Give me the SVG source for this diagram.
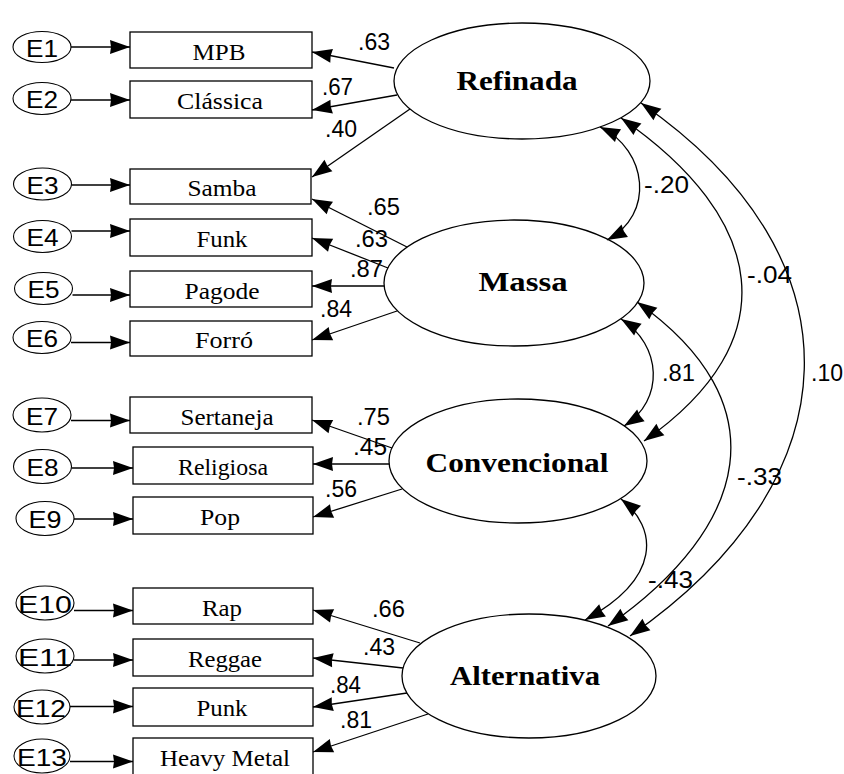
<svg xmlns="http://www.w3.org/2000/svg" width="844" height="774" viewBox="0 0 844 774">
<style>
.box{fill:#fff;stroke:#000;stroke-width:1.3}
.lat{fill:#fff;stroke:#000;stroke-width:1.3}
.err{fill:#fff;stroke:#000;stroke-width:1.1}
.ind{font-family:"Liberation Serif","Times New Roman",serif;font-size:22.5px;text-anchor:middle;fill:#000}
.latt{font-family:"Liberation Serif","Times New Roman",serif;font-weight:bold;font-size:27px;text-anchor:middle;fill:#000}
.et{font-family:"Liberation Sans",Arial,sans-serif;font-size:24px;text-anchor:middle;fill:#000}
.lbl{font-family:"Liberation Sans",Arial,sans-serif;font-size:23px;fill:#000}
.c{fill:none;stroke:#000;stroke-width:1.3;marker-end:url(#ah)}
.cc{fill:none;stroke:#000;stroke-width:1.3;marker-start:url(#ah);marker-end:url(#ah)}
</style>
<defs>
<marker id="ah" markerUnits="userSpaceOnUse" markerWidth="22" markerHeight="16" viewBox="-21 -8 22 16" refX="0" refY="0" orient="auto-start-reverse">
<path d="M0,0 L-20,-7 L-19,0 L-20,7 z" fill="#000"/>
</marker>
</defs>
<rect width="844" height="774" fill="#fff"/>

<!-- error terms -->
<g id="E1"><ellipse class="err" cx="42" cy="47" rx="29" ry="15.5"/><text class="et" x="42" y="56.5" textLength="32" lengthAdjust="spacingAndGlyphs">E1</text></g>
<g id="E2"><ellipse class="err" cx="42" cy="98.5" rx="29" ry="16"/><text class="et" x="42" y="108" textLength="32" lengthAdjust="spacingAndGlyphs">E2</text></g>
<g id="E3"><ellipse class="err" cx="42.5" cy="184" rx="29" ry="16"/><text class="et" x="42.5" y="193.5" textLength="32" lengthAdjust="spacingAndGlyphs">E3</text></g>
<g id="E4"><ellipse class="err" cx="42.5" cy="236.5" rx="29" ry="16"/><text class="et" x="42.5" y="246" textLength="32" lengthAdjust="spacingAndGlyphs">E4</text></g>
<g id="E5"><ellipse class="err" cx="43.5" cy="288.5" rx="29" ry="16"/><text class="et" x="43.5" y="298" textLength="32" lengthAdjust="spacingAndGlyphs">E5</text></g>
<g id="E6"><ellipse class="err" cx="42" cy="337.5" rx="29" ry="16"/><text class="et" x="42" y="347" textLength="32" lengthAdjust="spacingAndGlyphs">E6</text></g>
<g id="E7"><ellipse class="err" cx="42" cy="415" rx="29" ry="17"/><text class="et" x="42" y="424.5" textLength="32" lengthAdjust="spacingAndGlyphs">E7</text></g>
<g id="E8"><ellipse class="err" cx="42.5" cy="466.5" rx="29" ry="17"/><text class="et" x="42.5" y="476" textLength="32" lengthAdjust="spacingAndGlyphs">E8</text></g>
<g id="E9"><ellipse class="err" cx="45" cy="518.5" rx="29" ry="17"/><text class="et" x="45" y="528" textLength="33" lengthAdjust="spacingAndGlyphs">E9</text></g>
<g id="E10"><ellipse class="err" cx="45" cy="603" rx="29" ry="17"/><text class="et" x="45" y="612.5" textLength="54" lengthAdjust="spacingAndGlyphs">E10</text></g>
<g id="E11"><ellipse class="err" cx="45" cy="656" rx="29" ry="17"/><text class="et" x="45" y="665.5" textLength="54" lengthAdjust="spacingAndGlyphs">E11</text></g>
<g id="E12"><ellipse class="err" cx="42" cy="707" rx="28" ry="17"/><text class="et" x="41" y="716.5" textLength="50" lengthAdjust="spacingAndGlyphs">E12</text></g>
<g id="E13"><ellipse class="err" cx="42" cy="756" rx="28" ry="17"/><text class="et" x="42" y="765.5" textLength="50" lengthAdjust="spacingAndGlyphs">E13</text></g>

<!-- indicators -->
<g id="MPB"><rect class="box" x="130" y="32" width="182" height="36"/><text class="ind" x="219" y="59.5" textLength="53" lengthAdjust="spacingAndGlyphs">MPB</text></g>
<g id="Classica"><rect class="box" x="130" y="81" width="182" height="37"/><text class="ind" x="220" y="108.5" textLength="86" lengthAdjust="spacingAndGlyphs">Clássica</text></g>
<g id="Samba"><rect class="box" x="130" y="169" width="181" height="35"/><text class="ind" x="222" y="196" textLength="69" lengthAdjust="spacingAndGlyphs">Samba</text></g>
<g id="Funk"><rect class="box" x="130" y="219" width="182" height="37"/><text class="ind" x="222" y="246.5" textLength="51" lengthAdjust="spacingAndGlyphs">Funk</text></g>
<g id="Pagode"><rect class="box" x="130" y="271" width="182" height="36"/><text class="ind" x="222" y="298.5" textLength="75" lengthAdjust="spacingAndGlyphs">Pagode</text></g>
<g id="Forro"><rect class="box" x="130" y="321" width="182" height="35"/><text class="ind" x="224" y="348" textLength="58" lengthAdjust="spacingAndGlyphs">Forró</text></g>
<g id="Sertaneja"><rect class="box" x="130" y="397" width="182" height="36"/><text class="ind" x="227" y="424.5" textLength="93" lengthAdjust="spacingAndGlyphs">Sertaneja</text></g>
<g id="Religiosa"><rect class="box" x="133" y="447" width="180" height="37"/><text class="ind" x="223" y="474.5" textLength="90" lengthAdjust="spacingAndGlyphs">Religiosa</text></g>
<g id="Pop"><rect class="box" x="133" y="497" width="180" height="37"/><text class="ind" x="220" y="524.5" textLength="40" lengthAdjust="spacingAndGlyphs">Pop</text></g>
<g id="Rap"><rect class="box" x="133" y="588" width="180" height="36"/><text class="ind" x="222" y="615.5" textLength="40" lengthAdjust="spacingAndGlyphs">Rap</text></g>
<g id="Reggae"><rect class="box" x="133" y="639" width="180" height="37"/><text class="ind" x="225" y="666.5" textLength="74" lengthAdjust="spacingAndGlyphs">Reggae</text></g>
<g id="Punk"><rect class="box" x="133" y="688" width="180" height="38"/><text class="ind" x="222" y="715.5" textLength="51" lengthAdjust="spacingAndGlyphs">Punk</text></g>
<g id="HeavyMetal"><rect class="box" x="133" y="738" width="180" height="40"/><text class="ind" x="225" y="765.5" textLength="130" lengthAdjust="spacingAndGlyphs">Heavy Metal</text></g>

<!-- latent factors -->
<g id="Refinada"><ellipse class="lat" cx="522" cy="81" rx="128" ry="58"/><text class="latt" x="517" y="90" textLength="121" lengthAdjust="spacingAndGlyphs">Refinada</text></g>
<g id="Massa"><ellipse class="lat" cx="514" cy="283" rx="130" ry="63"/><text class="latt" x="523" y="291" textLength="89" lengthAdjust="spacingAndGlyphs">Massa</text></g>
<g id="Convencional"><ellipse class="lat" cx="518" cy="461" rx="129" ry="62"/><text class="latt" x="517" y="472" textLength="183" lengthAdjust="spacingAndGlyphs">Convencional</text></g>
<g id="Alternativa"><ellipse class="lat" cx="529" cy="676" rx="127" ry="62"/><text class="latt" x="525" y="685" textLength="150" lengthAdjust="spacingAndGlyphs">Alternativa</text></g>

<g id="connectors">
<!-- error arrows -->
<path class="c" d="M71,47 L130,47"/>
<path class="c" d="M71,100 L130,100"/>
<path class="c" d="M71.5,185 L130,185"/>
<path class="c" d="M71.5,231 L130,231"/>
<path class="c" d="M72.5,295 L130,295"/>
<path class="c" d="M71,342.5 L130,342.5"/>
<path class="c" d="M71,420.5 L130,420.5"/>
<path class="c" d="M71.5,468 L133,468"/>
<path class="c" d="M74,519 L133,519"/>
<path class="c" d="M74,610.5 L133,610.5"/>
<path class="c" d="M74,660 L133,660"/>
<path class="c" d="M70,706.5 L133,706.5"/>
<path class="c" d="M70,761.5 L133,761.5"/>
<!-- loadings -->
<path class="c" d="M394,68 L312,52"/>
<path class="c" d="M397,95 L312,110"/>
<path class="c" d="M410,109 L312,177"/>
<path class="c" d="M407,247 L312,199"/>
<path class="c" d="M388,268 L312,238"/>
<path class="c" d="M384,286 L312,286"/>
<path class="c" d="M397,311 L312,340"/>
<path class="c" d="M392,448 L312,420"/>
<path class="c" d="M389,464 L313,464"/>
<path class="c" d="M402,489 L313,517"/>
<path class="c" d="M420,643 L313,610"/>
<path class="c" d="M403,668 L313,658"/>
<path class="c" d="M407,693 L313,707"/>
<path class="c" d="M428,714 L313,752"/>
<!-- correlations -->
<path class="cc" d="M600,127 C648,150 655,215 607,240"/>
<path class="cc" d="M621,118 C766,218 789,340 644,441"/>
<path class="cc" d="M641,103 C866,259 855,480 630,636"/>
<path class="cc" d="M621,319 C662,345 665,400 624,426"/>
<path class="cc" d="M637,302 C780,403 751,526 608,626"/>
<path class="cc" d="M621,499 C658,528 662,578 585,620"/>
</g>

<g id="labels">
<text class="lbl" x="358" y="50" textLength="32" lengthAdjust="spacingAndGlyphs">.63</text>
<text class="lbl" x="322" y="95" textLength="31" lengthAdjust="spacingAndGlyphs">.67</text>
<text class="lbl" x="325" y="137" textLength="32" lengthAdjust="spacingAndGlyphs">.40</text>
<text class="lbl" x="367" y="215" textLength="33" lengthAdjust="spacingAndGlyphs">.65</text>
<text class="lbl" x="355" y="247" textLength="33" lengthAdjust="spacingAndGlyphs">.63</text>
<text class="lbl" x="350" y="277" textLength="33" lengthAdjust="spacingAndGlyphs">.87</text>
<text class="lbl" x="320" y="317" textLength="32" lengthAdjust="spacingAndGlyphs">.84</text>
<text class="lbl" x="357" y="425" textLength="33" lengthAdjust="spacingAndGlyphs">.75</text>
<text class="lbl" x="353" y="455" textLength="34" lengthAdjust="spacingAndGlyphs">.45</text>
<text class="lbl" x="325" y="497" textLength="32" lengthAdjust="spacingAndGlyphs">.56</text>
<text class="lbl" x="372" y="617" textLength="33" lengthAdjust="spacingAndGlyphs">.66</text>
<text class="lbl" x="363" y="655" textLength="32" lengthAdjust="spacingAndGlyphs">.43</text>
<text class="lbl" x="330" y="693" textLength="31" lengthAdjust="spacingAndGlyphs">.84</text>
<text class="lbl" x="340" y="728" textLength="32" lengthAdjust="spacingAndGlyphs">.81</text>
<text class="lbl" x="644" y="193" textLength="45" lengthAdjust="spacingAndGlyphs">-.20</text>
<text class="lbl" x="747" y="283" textLength="45" lengthAdjust="spacingAndGlyphs">-.04</text>
<text class="lbl" x="811" y="381" textLength="32" lengthAdjust="spacingAndGlyphs">.10</text>
<text class="lbl" x="662" y="381" textLength="33" lengthAdjust="spacingAndGlyphs">.81</text>
<text class="lbl" x="737" y="485" textLength="45" lengthAdjust="spacingAndGlyphs">-.33</text>
<text class="lbl" x="648" y="588" textLength="45" lengthAdjust="spacingAndGlyphs">-.43</text>
</g>
</svg>
